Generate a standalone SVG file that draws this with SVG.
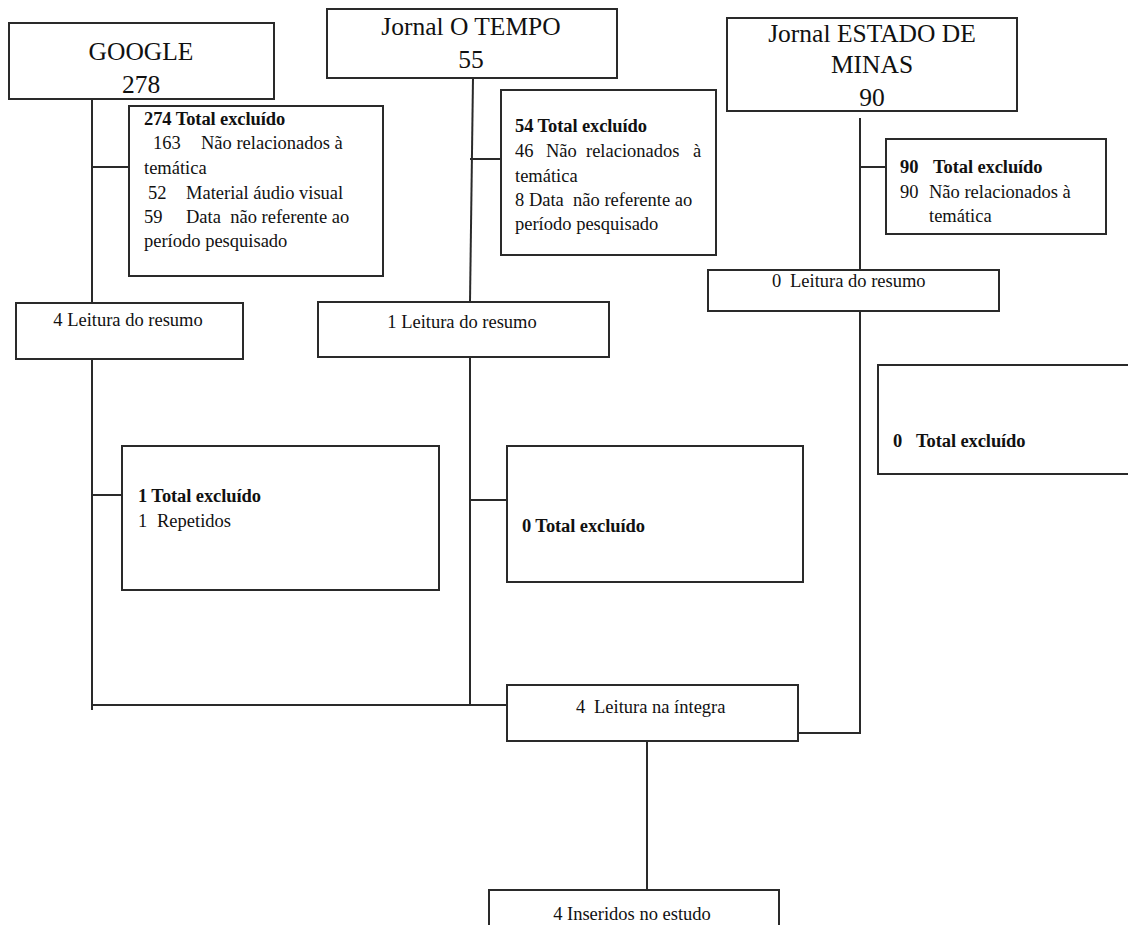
<svg xmlns="http://www.w3.org/2000/svg" width="1128" height="925" viewBox="0 0 1128 925">
<style>
.box{fill:#fff;stroke:#2a2a2a;stroke-width:2}
.ln{stroke:#2a2a2a;stroke-width:2;fill:none}
text{font-family:"Liberation Serif","Times New Roman",serif;fill:#111}
.t{font-size:25.5px}
.s{font-size:18.5px}
.b{font-size:18.5px;font-weight:bold;letter-spacing:-0.1px}
.c{text-anchor:middle}
</style>
<rect width="1128" height="925" fill="#fff"/>
<g id="connectors">
<line class="ln" x1="92" y1="99" x2="92" y2="303"/>
<line class="ln" x1="92" y1="167" x2="129" y2="167"/>
<line class="ln" x1="92" y1="359" x2="92" y2="710"/>
<line class="ln" x1="92" y1="495" x2="122" y2="495"/>
<line class="ln" x1="473" y1="78" x2="470" y2="302"/>
<line class="ln" x1="470" y1="159" x2="501" y2="159"/>
<line class="ln" x1="470" y1="357" x2="470" y2="705"/>
<line class="ln" x1="470" y1="500" x2="507" y2="500"/>
<line class="ln" x1="92" y1="705" x2="507" y2="705"/>
<line class="ln" x1="860" y1="118" x2="860" y2="270"/>
<line class="ln" x1="860" y1="167" x2="886" y2="167"/>
<polyline class="ln" points="860,311 860,733 798,733"/>
<line class="ln" x1="647" y1="741" x2="647" y2="890"/>
</g>
<g id="google">
<rect class="box" x="9" y="23" width="265" height="76"/>
<text class="t c" x="141" y="60">GOOGLE</text>
<text class="t c" x="141" y="93">278</text>
</g>
<g id="google-excl">
<rect class="box" x="129" y="106" width="254" height="170"/>
<text class="b" x="144" y="125">274 Total excluído</text>
<text class="s" x="153" y="149">163</text><text class="s" x="201" y="149">Não relacionados à</text>
<text class="s" x="144" y="174">temática</text>
<text class="s" x="148" y="199">52</text><text class="s" x="186" y="199">Material áudio visual</text>
<text class="s" x="144" y="223">59</text><text class="s" x="186" y="223" xml:space="preserve">Data  não referente ao</text>
<text class="s" x="144" y="247">período pesquisado</text>
</g>
<g id="google-resumo">
<rect class="box" x="16" y="303" width="227" height="56"/>
<text class="s c" x="128" y="326">4 Leitura do resumo</text>
</g>
<g id="google-excl2">
<rect class="box" x="122" y="446" width="317" height="144"/>
<text class="b" x="138" y="502">1 Total excluído</text>
<text class="s" x="138" y="527">1</text><text class="s" x="157" y="527">Repetidos</text>
</g>
<g id="otempo">
<rect class="box" x="327" y="9" width="290" height="69"/>
<text class="t c" x="471" y="35">Jornal O TEMPO</text>
<text class="t c" x="471" y="68">55</text>
</g>
<g id="otempo-excl">
<rect class="box" x="501" y="90" width="215" height="165"/>
<text class="b" x="515" y="132">54 Total excluído</text>
<text class="s" x="515" y="157">46</text><text class="s" x="546" y="157">Não</text><text class="s" x="586" y="157">relacionados</text><text class="s" x="693" y="157">à</text>
<text class="s" x="515" y="182">temática</text>
<text class="s" x="515" y="206" xml:space="preserve">8 Data  não referente ao</text>
<text class="s" x="515" y="230">período pesquisado</text>
</g>
<g id="otempo-resumo">
<rect class="box" x="318" y="302" width="291" height="55"/>
<text class="s c" x="462" y="328">1 Leitura do resumo</text>
</g>
<g id="otempo-excl2">
<rect class="box" x="507" y="446" width="296" height="136"/>
<text class="b" x="522" y="532">0 Total excluído</text>
</g>
<g id="estado">
<rect class="box" x="727" y="18" width="290" height="93"/>
<text class="t c" x="872" y="42">Jornal ESTADO DE</text>
<text class="t c" x="872" y="73">MINAS</text>
<text class="t c" x="872" y="106">90</text>
</g>
<g id="estado-excl">
<rect class="box" x="886" y="139" width="220" height="95"/>
<text class="b" x="900" y="173">90</text><text class="b" x="933" y="173">Total excluído</text>
<text class="s" x="900" y="198">90</text><text class="s" x="929" y="198">Não relacionados à</text>
<text class="s" x="929" y="222">temática</text>
</g>
<g id="estado-resumo">
<rect class="box" x="708" y="270" width="291" height="41"/>
<text class="s" x="772" y="287">0</text><text class="s" x="790" y="287">Leitura do resumo</text>
</g>
<g id="estado-excl2">
<rect class="box" x="878" y="365" width="260" height="109"/>
<text class="b" x="893" y="447">0</text><text class="b" x="916" y="447">Total excluído</text>
</g>
<g id="integra">
<rect class="box" x="507" y="685" width="291" height="56"/>
<text class="s" x="576" y="713">4</text><text class="s" x="594" y="713">Leitura na íntegra</text>
</g>
<g id="inseridos">
<rect class="box" x="489" y="890" width="290" height="50"/>
<text class="s c" x="632" y="920">4 Inseridos no estudo</text>
</g>
</svg>
